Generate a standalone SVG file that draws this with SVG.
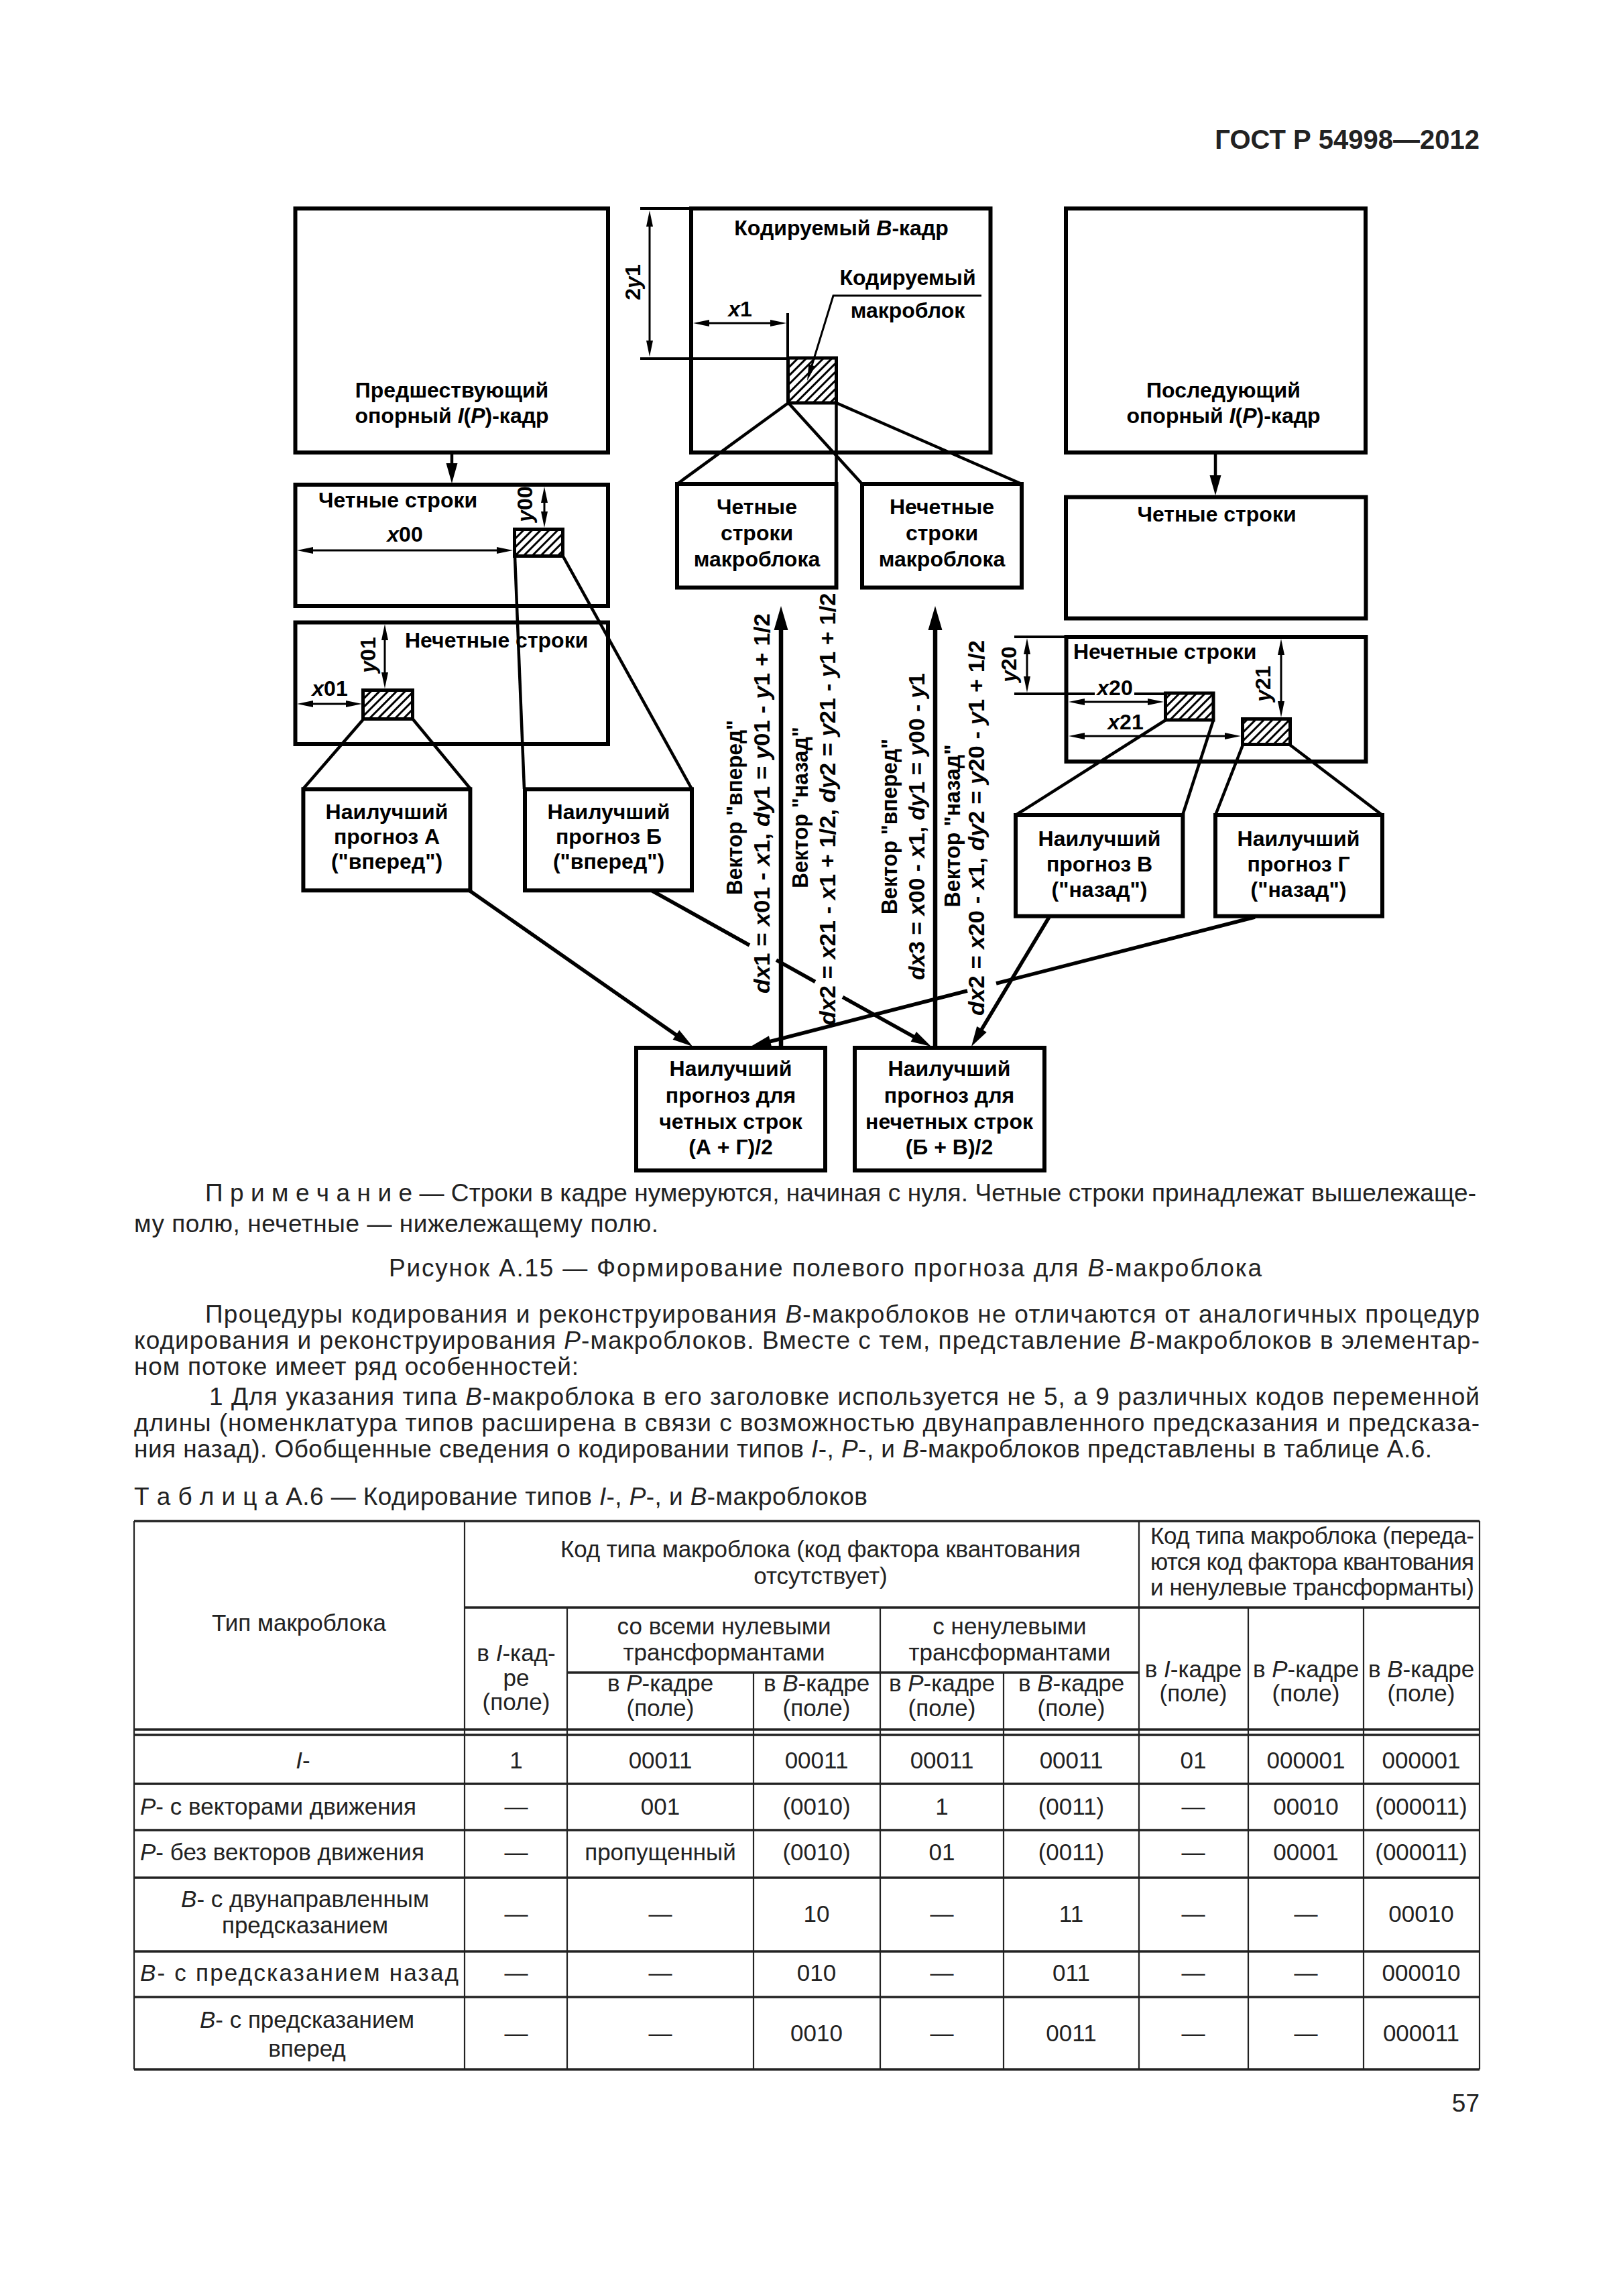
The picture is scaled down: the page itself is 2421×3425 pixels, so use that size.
<svg xmlns="http://www.w3.org/2000/svg" width="2421" height="3425" viewBox="0 0 2421 3425">
<defs>
<style>
.bx{fill:none;stroke:#000;stroke-width:6}
.ln{fill:none;stroke:#000;stroke-width:4.5}
.la{fill:none;stroke:#000;stroke-width:5.5}
.lv{fill:none;stroke:#000;stroke-width:6.5}
.dm{fill:none;stroke:#000;stroke-width:3}
.ex{fill:none;stroke:#000;stroke-width:4}
.ht{fill:url(#hatch);stroke:#000;stroke-width:5}
text{font-family:"Liberation Sans",Arial,Helvetica,sans-serif}
.d{font-size:32px;font-weight:bold;fill:#000}
.v{font-size:34px;font-weight:bold;fill:#000}
.m{text-anchor:middle}
.e{text-anchor:end}
.i{font-style:italic}
.b{font-size:37px;fill:#222}
.tb{font-size:35px;fill:#222}
.tl{stroke:#222;stroke-width:3.5}
.tv{stroke:#222;stroke-width:2.2}
.hd{font-size:40px;font-weight:bold;fill:#222}
</style>
<pattern id="hatch" patternUnits="userSpaceOnUse" width="9" height="9" patternTransform="rotate(45)"><rect width="9" height="9" fill="#fff"/><line x1="4.5" y1="0" x2="4.5" y2="9" stroke="#000" stroke-width="3"/></pattern>
<marker id="aB" markerUnits="userSpaceOnUse" viewBox="-23 -11 38 22" markerWidth="38" markerHeight="22" refX="0" refY="0" orient="auto"><path d="M14,0 L-22,-10.5 L-22,10.5 z" fill="#000"/></marker>
<marker id="aM" markerUnits="userSpaceOnUse" viewBox="-19 -9 32 18" markerWidth="32" markerHeight="18" refX="0" refY="0" orient="auto"><path d="M12,0 L-18,-8.5 L-18,8.5 z" fill="#000"/></marker>
<marker id="aD" markerUnits="userSpaceOnUse" viewBox="-15 -6 26 12" markerWidth="26" markerHeight="12" refX="0" refY="0" orient="auto-start-reverse"><path d="M10,0 L-14,-5 L-14,5 z" fill="#000"/></marker>
</defs>
<rect width="2421" height="3425" fill="#fff"/>

<text class="hd e" x="2207" y="222">ГОСТ Р 54998—2012</text>

<!-- nodes -->
<g id="prev-frame">
<rect class="bx" x="440.5" y="311" width="466.5" height="364"/>
<text class="d m" x="674" y="593">Предшествующий</text>
<text class="d m" x="674" y="631">опорный <tspan class="i">I</tspan>(<tspan class="i">P</tspan>)-кадр</text>
</g>
<g id="coded-frame">
<rect class="bx" x="1031" y="311" width="446.5" height="364"/>
<text class="d m" x="1255" y="351">Кодируемый <tspan class="i">B</tspan>-кадр</text>
<text class="d m" x="1354" y="425">Кодируемый</text>
<text class="d m" x="1354" y="474">макроблок</text>
<rect class="ht" x="1175.5" y="534" width="72" height="67"/>
</g>
<g id="next-frame">
<rect class="bx" x="1590" y="311" width="447" height="364"/>
<text class="d m" x="1825" y="593">Последующий</text>
<text class="d m" x="1825" y="631">опорный <tspan class="i">I</tspan>(<tspan class="i">P</tspan>)-кадр</text>
</g>
<g id="prev-even">
<rect class="bx" x="440.5" y="723" width="466.5" height="181"/>
<text class="d" x="475" y="757">Четные строки</text>
<rect class="ht" x="767.5" y="789.5" width="72" height="40"/>
</g>
<g id="prev-odd">
<rect class="bx" x="440.5" y="928.5" width="466.5" height="181.5"/>
<text class="d" x="604" y="966">Нечетные строки</text>
<rect class="ht" x="541.5" y="1029.5" width="74" height="43"/>
</g>
<g id="coded-even-mb">
<rect class="bx" x="1010" y="722" width="237.5" height="154.5"/>
<text class="d m" x="1129" y="767">Четные</text>
<text class="d m" x="1129" y="806">строки</text>
<text class="d m" x="1129" y="845">макроблока</text>
</g>
<g id="coded-odd-mb">
<rect class="bx" x="1286" y="722" width="238" height="154.5"/>
<text class="d m" x="1405" y="767">Нечетные</text>
<text class="d m" x="1405" y="806">строки</text>
<text class="d m" x="1405" y="845">макроблока</text>
</g>
<g id="next-even">
<rect class="bx" x="1590" y="741.5" width="447.5" height="181"/>
<text class="d m" x="1815" y="778">Четные строки</text>
</g>
<g id="next-odd">
<rect class="bx" x="1590.5" y="950" width="447" height="186"/>
<text class="d" x="1601" y="983">Нечетные строки</text>
<rect class="ht" x="1738.5" y="1034" width="71.5" height="40"/>
<rect class="ht" x="1853.5" y="1072.5" width="71" height="38"/>
</g>
<g id="pred-A">
<rect class="bx" x="452.4" y="1177.3" width="249" height="151"/>
<text class="d m" x="577" y="1222">Наилучший</text>
<text class="d m" x="577" y="1259">прогноз А</text>
<text class="d m" x="577" y="1296">("вперед")</text>
</g>
<g id="pred-B">
<rect class="bx" x="783" y="1177.3" width="249" height="151"/>
<text class="d m" x="908" y="1222">Наилучший</text>
<text class="d m" x="908" y="1259">прогноз Б</text>
<text class="d m" x="908" y="1296">("вперед")</text>
</g>
<g id="pred-V">
<rect class="bx" x="1515" y="1216" width="249.4" height="150.7"/>
<text class="d m" x="1640" y="1262">Наилучший</text>
<text class="d m" x="1640" y="1300">прогноз В</text>
<text class="d m" x="1640" y="1338">("назад")</text>
</g>
<g id="pred-G">
<rect class="bx" x="1813" y="1216" width="249" height="150.7"/>
<text class="d m" x="1937" y="1262">Наилучший</text>
<text class="d m" x="1937" y="1300">прогноз Г</text>
<text class="d m" x="1937" y="1338">("назад")</text>
</g>
<g id="even-result">
<rect class="bx" x="949" y="1563" width="282" height="183"/>
<text class="d m" x="1090" y="1605">Наилучший</text>
<text class="d m" x="1090" y="1645">прогноз для</text>
<text class="d m" x="1090" y="1684">четных строк</text>
<text class="d m" x="1090" y="1722">(А + Г)/2</text>
</g>
<g id="odd-result">
<rect class="bx" x="1275" y="1563" width="283" height="183"/>
<text class="d m" x="1416" y="1605">Наилучший</text>
<text class="d m" x="1416" y="1645">прогноз для</text>
<text class="d m" x="1416" y="1684">нечетных строк</text>
<text class="d m" x="1416" y="1722">(Б + В)/2</text>
</g>

<!-- connectors -->
<g id="connectors">
<line class="ln" x1="674" y1="678" x2="674" y2="709" marker-end="url(#aM)"/>
<line class="ln" x1="1813" y1="678" x2="1813" y2="727" marker-end="url(#aM)"/>
<line class="ln" x1="1176" y1="601" x2="1010" y2="722"/>
<line class="ln" x1="1176" y1="601" x2="1286" y2="722"/>
<line class="ln" x1="1247.5" y1="601" x2="1247.5" y2="722"/>
<line class="ln" x1="1247.5" y1="601" x2="1524" y2="722"/>
<line class="ln" x1="768" y1="830" x2="782" y2="1177"/>
<line class="ln" x1="840" y1="830" x2="1032" y2="1177"/>
<line class="ln" x1="542" y1="1073" x2="452" y2="1177"/>
<line class="ln" x1="616" y1="1073" x2="702" y2="1177"/>
<line class="ln" x1="1739" y1="1074" x2="1515" y2="1216"/>
<line class="ln" x1="1810" y1="1074" x2="1764" y2="1216"/>
<line class="ln" x1="1854" y1="1111" x2="1813" y2="1216"/>
<line class="ln" x1="1924" y1="1111" x2="2062" y2="1216"/>
<line class="lv" x1="1165" y1="1562" x2="1165" y2="918" marker-end="url(#aB)"/>
<line class="lv" x1="1395" y1="1562" x2="1395" y2="918" marker-end="url(#aB)"/>
<line class="la" x1="701" y1="1329" x2="1023.2" y2="1554.1" marker-end="url(#aM)"/>
<path class="la" d="M973,1329 L1118,1410 M1158,1432.2 L1216,1464.5"/>
<line class="la" x1="1257" y1="1487.4" x2="1378.5" y2="1555.2" marker-end="url(#aM)"/>
<path class="la" d="M1872,1368 L1486,1467"/>
<line class="la" x1="1443" y1="1478" x2="1131.6" y2="1558" marker-end="url(#aM)"/>
<line class="la" x1="1565" y1="1368" x2="1455.2" y2="1550.7" marker-end="url(#aM)"/>
<polyline class="dm" points="1464,441 1243,441 1207,558.4" marker-end="url(#aD)"/>
</g>

<!-- dimensions -->
<g id="dimensions">
<line class="ex" x1="955" y1="311" x2="1031" y2="311"/>
<line class="ex" x1="955" y1="535" x2="1176" y2="535"/>
<line class="dm" x1="969" y1="324" x2="969" y2="522" marker-start="url(#aD)" marker-end="url(#aD)"/>
<text class="d m" transform="translate(955,421) rotate(-90)">2<tspan class="i">y</tspan>1</text>
<line class="ex" x1="1175" y1="467" x2="1175" y2="534"/>
<line class="dm" x1="1044" y1="482" x2="1163" y2="482" marker-start="url(#aD)" marker-end="url(#aD)"/>
<text class="d m" x="1104" y="472"><tspan class="i">x</tspan>1</text>
<line class="dm" x1="453" y1="821" x2="755" y2="821" marker-start="url(#aD)" marker-end="url(#aD)"/>
<text class="d m" x="604" y="808"><tspan class="i">x</tspan>00</text>
<line class="dm" x1="812" y1="736" x2="812" y2="777" marker-start="url(#aD)" marker-end="url(#aD)"/>
<text class="d m" transform="translate(794,752) rotate(-90)"><tspan class="i">y</tspan>00</text>
<line class="dm" x1="574" y1="941" x2="574" y2="1017" marker-start="url(#aD)" marker-end="url(#aD)"/>
<text class="d m" transform="translate(560,977) rotate(-90)"><tspan class="i">y</tspan>01</text>
<line class="dm" x1="453" y1="1050" x2="530" y2="1050" marker-start="url(#aD)" marker-end="url(#aD)"/>
<text class="d m" x="492" y="1038"><tspan class="i">x</tspan>01</text>
<line class="ex" x1="1513" y1="950" x2="1591" y2="950"/>
<path class="ex" d="M1513,1035 L1633,1035 M1692,1035 L1738,1035"/>
<line class="dm" x1="1532" y1="962" x2="1532" y2="1023" marker-start="url(#aD)" marker-end="url(#aD)"/>
<text class="d m" transform="translate(1516,991) rotate(-90)"><tspan class="i">y</tspan>20</text>
<line class="dm" x1="1604" y1="1047" x2="1726" y2="1047" marker-start="url(#aD)" marker-end="url(#aD)"/>
<text class="d m" x="1663" y="1037"><tspan class="i">x</tspan>20</text>
<line class="dm" x1="1604" y1="1098" x2="1841" y2="1098" marker-start="url(#aD)" marker-end="url(#aD)"/>
<text class="d m" x="1679" y="1088"><tspan class="i">x</tspan>21</text>
<line class="dm" x1="1911" y1="963" x2="1911" y2="1060" marker-start="url(#aD)" marker-end="url(#aD)"/>
<text class="d m" transform="translate(1895,1020) rotate(-90)"><tspan class="i">y</tspan>21</text>
</g>

<!-- vector labels -->
<g id="vector-labels">
<text class="v m" transform="translate(1107,1204.5) rotate(-90)" textLength="261" lengthAdjust="spacingAndGlyphs">Вектор "вперед"</text>
<text class="v m" transform="translate(1148,1198.5) rotate(-90)" textLength="567" lengthAdjust="spacingAndGlyphs"><tspan class="i">dx</tspan>1 = <tspan class="i">x</tspan>01 - <tspan class="i">x</tspan>1, <tspan class="i">dy</tspan>1 = <tspan class="i">y</tspan>01 - <tspan class="i">y</tspan>1 + 1/2</text>
<text class="v m" transform="translate(1205,1204.5) rotate(-90)" textLength="241" lengthAdjust="spacingAndGlyphs">Вектор "назад"</text>
<text class="v m" transform="translate(1246,1207) rotate(-90)" textLength="645" lengthAdjust="spacingAndGlyphs"><tspan class="i">dx</tspan>2 = <tspan class="i">x</tspan>21 - <tspan class="i">x</tspan>1 + 1/2, <tspan class="i">dy</tspan>2 = <tspan class="i">y</tspan>21 - <tspan class="i">y</tspan>1 + 1/2</text>
<text class="v m" transform="translate(1337.5,1233) rotate(-90)" textLength="262" lengthAdjust="spacingAndGlyphs">Вектор "вперед"</text>
<text class="v m" transform="translate(1378.5,1233) rotate(-90)" textLength="458" lengthAdjust="spacingAndGlyphs"><tspan class="i">dx</tspan>3 = <tspan class="i">x</tspan>00 - <tspan class="i">x</tspan>1, <tspan class="i">dy</tspan>1 = <tspan class="i">y</tspan>00 - <tspan class="i">y</tspan>1</text>
<text class="v m" transform="translate(1432,1232) rotate(-90)" textLength="243" lengthAdjust="spacingAndGlyphs">Вектор "назад"</text>
<text class="v m" transform="translate(1468,1235) rotate(-90)" textLength="560" lengthAdjust="spacingAndGlyphs"><tspan class="i">dx</tspan>2 = <tspan class="i">x</tspan>20 - <tspan class="i">x</tspan>1, <tspan class="i">dy</tspan>2 = <tspan class="i">y</tspan>20 - <tspan class="i">y</tspan>1 + 1/2</text>
</g>

<!-- body text -->
<g id="body-text">
<text class="b" x="306" y="1792" textLength="1896" lengthAdjust="spacing">П р и м е ч а н и е — Строки в кадре нумеруются, начиная с нуля. Четные строки принадлежат вышележаще-</text>
<text class="b" x="200" y="1838" textLength="782" lengthAdjust="spacing">му полю, нечетные — нижележащему полю.</text>
<text class="b" x="580" y="1904" textLength="1302" lengthAdjust="spacing">Рисунок А.15 — Формирование полевого прогноза для <tspan class="i">B</tspan>-макроблока</text>
<text class="b" x="306" y="1973" textLength="1901" lengthAdjust="spacing">Процедуры кодирования и реконструирования <tspan class="i">B</tspan>-макроблоков  не отличаются от аналогичных процедур</text>
<text class="b" x="200" y="2012" textLength="2007" lengthAdjust="spacing">кодирования и реконструирования <tspan class="i">P</tspan>-макроблоков. Вместе с тем, представление <tspan class="i">B</tspan>-макроблоков  в элементар-</text>
<text class="b" x="200" y="2051" textLength="663" lengthAdjust="spacing">ном потоке имеет ряд особенностей:</text>
<text class="b" x="312" y="2096" textLength="1895" lengthAdjust="spacing">1 Для указания типа <tspan class="i">B</tspan>-макроблока в его заголовке используется не 5, а 9 различных кодов переменной</text>
<text class="b" x="200" y="2135" textLength="2007" lengthAdjust="spacing">длины (номенклатура типов расширена в связи с возможностью двунаправленного предсказания и предсказа-</text>
<text class="b" x="200" y="2174" textLength="1936" lengthAdjust="spacing">ния назад). Обобщенные сведения о кодировании типов <tspan class="i">I</tspan>-, <tspan class="i">P</tspan>-, и <tspan class="i">B</tspan>-макроблоков представлены в таблице А.6.</text>
<text class="b" x="200" y="2245" textLength="1094" lengthAdjust="spacing">Т а б л и ц а  А.6 — Кодирование типов <tspan class="i">I</tspan>-, <tspan class="i">P</tspan>-, и <tspan class="i">B</tspan>-макроблоков</text>
<text class="b e" x="2207" y="3150">57</text>
</g>

<!-- table -->
<g id="table-lines">
<line class="tl" x1="200" y1="2269" x2="2207" y2="2269"/>
<line class="tl" x1="693" y1="2398" x2="2207" y2="2398"/>
<line class="tl" x1="846" y1="2495" x2="1699" y2="2495"/>
<line class="tl" x1="200" y1="2580" x2="2207" y2="2580"/>
<line class="tl" x1="200" y1="2588" x2="2207" y2="2588"/>
<line class="tl" x1="200" y1="2661" x2="2207" y2="2661"/>
<line class="tl" x1="200" y1="2730" x2="2207" y2="2730"/>
<line class="tl" x1="200" y1="2801" x2="2207" y2="2801"/>
<line class="tl" x1="200" y1="2911" x2="2207" y2="2911"/>
<line class="tl" x1="200" y1="2979" x2="2207" y2="2979"/>
<line class="tl" x1="200" y1="3087" x2="2207" y2="3087"/>
<line class="tv" x1="200" y1="2269" x2="200" y2="3087"/>
<line class="tv" x1="693" y1="2269" x2="693" y2="3087"/>
<line class="tv" x1="846" y1="2398" x2="846" y2="3087"/>
<line class="tv" x1="1124" y1="2495" x2="1124" y2="3087"/>
<line class="tv" x1="1313" y1="2398" x2="1313" y2="3087"/>
<line class="tv" x1="1497" y1="2495" x2="1497" y2="3087"/>
<line class="tv" x1="1699" y1="2269" x2="1699" y2="3087"/>
<line class="tv" x1="1862" y1="2398" x2="1862" y2="3087"/>
<line class="tv" x1="2034" y1="2398" x2="2034" y2="3087"/>
<line class="tv" x1="2207" y1="2269" x2="2207" y2="3087"/>
</g>
<g id="table-text">
<text class="tb" x="836" y="2323" textLength="776" lengthAdjust="spacing">Код типа макроблока (код фактора квантования</text>
<text class="tb m" x="1224" y="2363">отсутствует)</text>
<text class="tb" x="1716" y="2303" textLength="483" lengthAdjust="spacing">Код типа макроблока (переда-</text>
<text class="tb" x="1716" y="2342" textLength="483" lengthAdjust="spacing">ются код фактора квантования</text>
<text class="tb" x="1716" y="2380" textLength="483" lengthAdjust="spacing">и ненулевые трансформанты)</text>
<text class="tb m" x="446" y="2433">Тип макроблока</text>
<text class="tb m" x="770" y="2478">в <tspan class="i">I</tspan>-кад-</text>
<text class="tb m" x="770" y="2515">ре</text>
<text class="tb m" x="770" y="2551">(поле)</text>
<text class="tb m" x="1080" y="2438">со всеми нулевыми</text>
<text class="tb m" x="1080" y="2477">трансформантами</text>
<text class="tb m" x="1506" y="2438">с ненулевыми</text>
<text class="tb m" x="1506" y="2477">трансформантами</text>
<text class="tb m" x="985" y="2523">в <tspan class="i">P</tspan>-кадре</text>
<text class="tb m" x="985" y="2560">(поле)</text>
<text class="tb m" x="1218" y="2523">в <tspan class="i">B</tspan>-кадре</text>
<text class="tb m" x="1218" y="2560">(поле)</text>
<text class="tb m" x="1405" y="2523">в <tspan class="i">P</tspan>-кадре</text>
<text class="tb m" x="1405" y="2560">(поле)</text>
<text class="tb m" x="1598" y="2523">в <tspan class="i">B</tspan>-кадре</text>
<text class="tb m" x="1598" y="2560">(поле)</text>
<text class="tb m" x="1780" y="2502">в <tspan class="i">I</tspan>-кадре</text>
<text class="tb m" x="1780" y="2538">(поле)</text>
<text class="tb m" x="1948" y="2502">в <tspan class="i">P</tspan>-кадре</text>
<text class="tb m" x="1948" y="2538">(поле)</text>
<text class="tb m" x="2120" y="2502">в <tspan class="i">B</tspan>-кадре</text>
<text class="tb m" x="2120" y="2538">(поле)</text>

<text class="tb m" x="452" y="2638"><tspan class="i">I</tspan>-</text>
<text class="tb m" x="770" y="2638">1</text>
<text class="tb m" x="985" y="2638">00011</text>
<text class="tb m" x="1218" y="2638">00011</text>
<text class="tb m" x="1405" y="2638">00011</text>
<text class="tb m" x="1598" y="2638">00011</text>
<text class="tb m" x="1780" y="2638">01</text>
<text class="tb m" x="1948" y="2638">000001</text>
<text class="tb m" x="2120" y="2638">000001</text>

<text class="tb" x="209" y="2707"><tspan class="i">P</tspan>- с векторами движения</text>
<text class="tb m" x="770" y="2707">—</text>
<text class="tb m" x="985" y="2707">001</text>
<text class="tb m" x="1218" y="2707">(0010)</text>
<text class="tb m" x="1405" y="2707">1</text>
<text class="tb m" x="1598" y="2707">(0011)</text>
<text class="tb m" x="1780" y="2707">—</text>
<text class="tb m" x="1948" y="2707">00010</text>
<text class="tb m" x="2120" y="2707">(000011)</text>

<text class="tb" x="209" y="2775"><tspan class="i">P</tspan>- без векторов движения</text>
<text class="tb m" x="770" y="2775">—</text>
<text class="tb m" x="985" y="2775">пропущенный</text>
<text class="tb m" x="1218" y="2775">(0010)</text>
<text class="tb m" x="1405" y="2775">01</text>
<text class="tb m" x="1598" y="2775">(0011)</text>
<text class="tb m" x="1780" y="2775">—</text>
<text class="tb m" x="1948" y="2775">00001</text>
<text class="tb m" x="2120" y="2775">(000011)</text>

<text class="tb m" x="455" y="2845"><tspan class="i">B</tspan>- с двунаправленным</text>
<text class="tb m" x="455" y="2884">предсказанием</text>
<text class="tb m" x="770" y="2867">—</text>
<text class="tb m" x="985" y="2867">—</text>
<text class="tb m" x="1218" y="2867">10</text>
<text class="tb m" x="1405" y="2867">—</text>
<text class="tb m" x="1598" y="2867">11</text>
<text class="tb m" x="1780" y="2867">—</text>
<text class="tb m" x="1948" y="2867">—</text>
<text class="tb m" x="2120" y="2867">00010</text>

<text class="tb" x="209" y="2955" textLength="475" lengthAdjust="spacing"><tspan class="i">B</tspan>- с предсказанием назад</text>
<text class="tb m" x="770" y="2955">—</text>
<text class="tb m" x="985" y="2955">—</text>
<text class="tb m" x="1218" y="2955">010</text>
<text class="tb m" x="1405" y="2955">—</text>
<text class="tb m" x="1598" y="2955">011</text>
<text class="tb m" x="1780" y="2955">—</text>
<text class="tb m" x="1948" y="2955">—</text>
<text class="tb m" x="2120" y="2955">000010</text>

<text class="tb m" x="458" y="3025"><tspan class="i">B</tspan>- с предсказанием</text>
<text class="tb m" x="458" y="3068">вперед</text>
<text class="tb m" x="770" y="3045">—</text>
<text class="tb m" x="985" y="3045">—</text>
<text class="tb m" x="1218" y="3045">0010</text>
<text class="tb m" x="1405" y="3045">—</text>
<text class="tb m" x="1598" y="3045">0011</text>
<text class="tb m" x="1780" y="3045">—</text>
<text class="tb m" x="1948" y="3045">—</text>
<text class="tb m" x="2120" y="3045">000011</text>
</g>
</svg>
